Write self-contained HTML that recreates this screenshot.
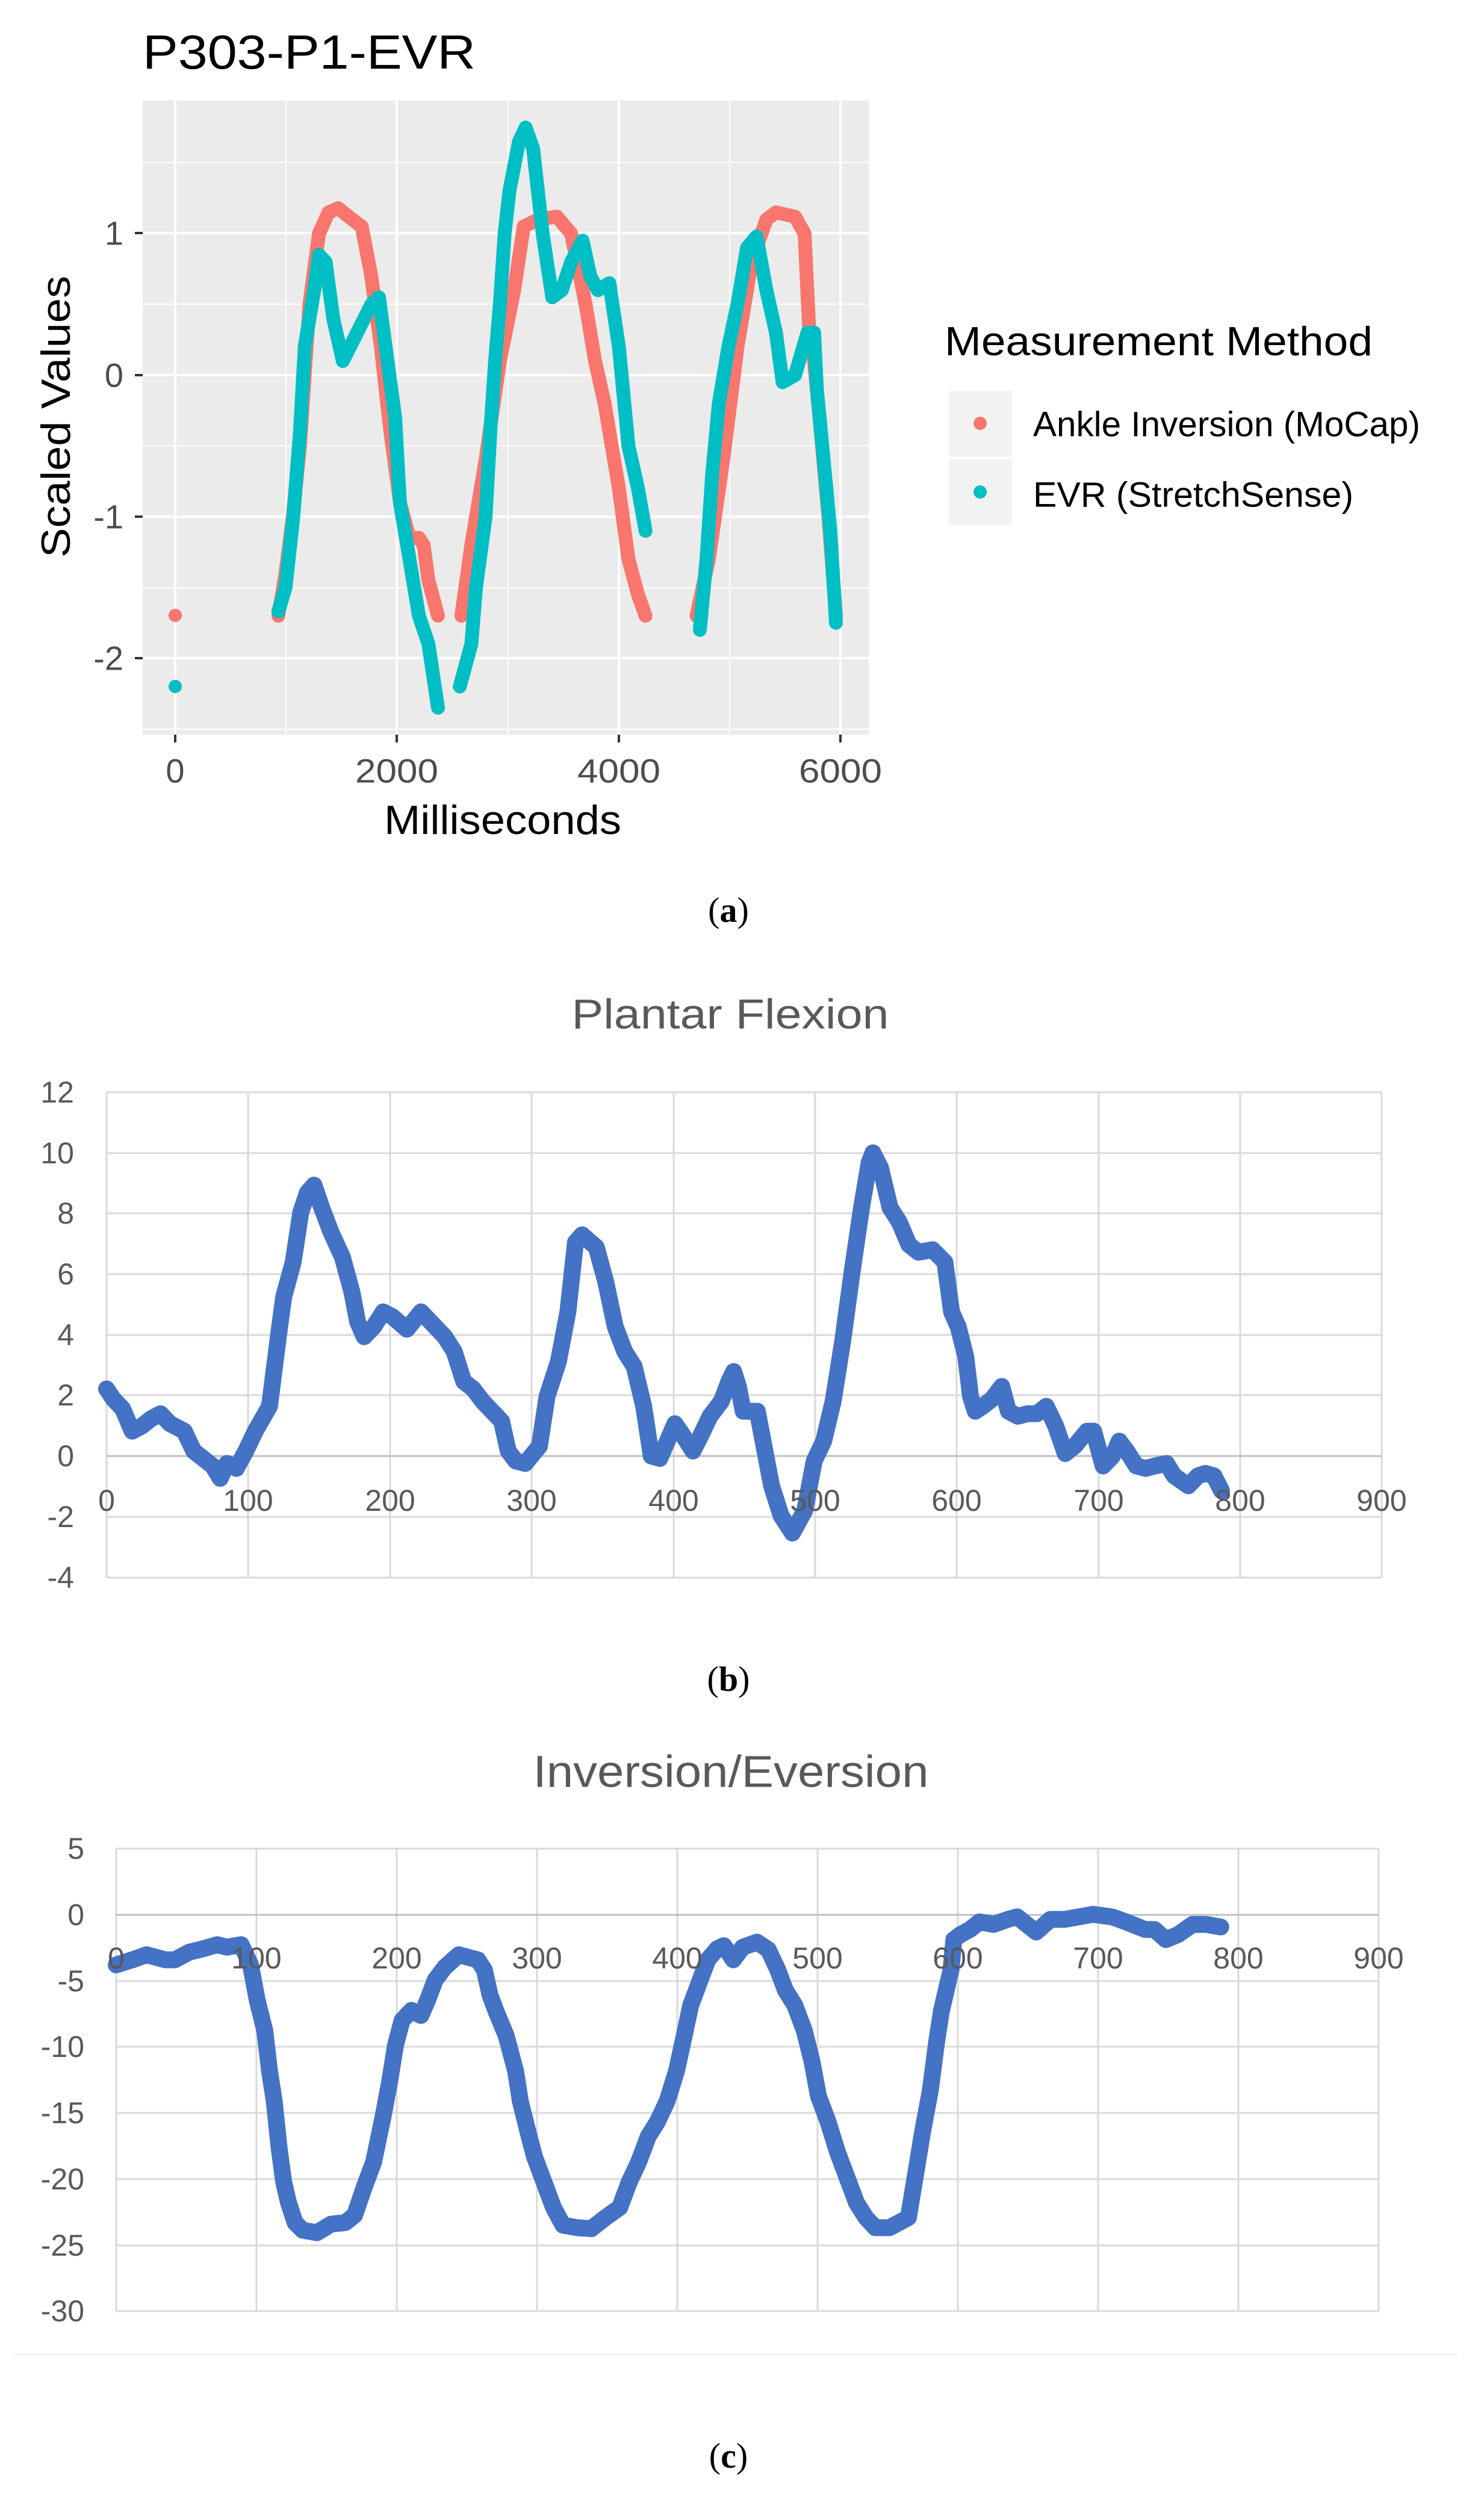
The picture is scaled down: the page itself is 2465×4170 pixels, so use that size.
<!DOCTYPE html>
<html><head><meta charset="utf-8"><style>html,body{margin:0;padding:0;background:#fff}svg{display:block}</style></head>
<body>
<svg width="2465" height="4170" viewBox="0 0 2465 4170" xmlns="http://www.w3.org/2000/svg" font-family="Liberation Sans, sans-serif">
<rect width="2465" height="4170" fill="#fff"/>
<!-- ===== Panel (a) ===== -->
<text x="237" y="114" font-size="80" fill="#000" textLength="553" lengthAdjust="spacingAndGlyphs">P303-P1-EVR</text>
<rect x="237" y="167" width="1206" height="1053" fill="#EBEBEB"/>
<g stroke="#fff" stroke-width="2">
<line x1="237" x2="1443" y1="270" y2="270"/><line x1="237" x2="1443" y1="505" y2="505"/><line x1="237" x2="1443" y1="740" y2="740"/><line x1="237" x2="1443" y1="976" y2="976"/><line x1="237" x2="1443" y1="1211" y2="1211"/>
<line x1="475" x2="475" y1="167" y2="1220"/><line x1="844" x2="844" y1="167" y2="1220"/><line x1="1212" x2="1212" y1="167" y2="1220"/>
</g>
<g stroke="#fff" stroke-width="4">
<line x1="237" x2="1443" y1="387" y2="387"/><line x1="237" x2="1443" y1="623" y2="623"/><line x1="237" x2="1443" y1="858" y2="858"/><line x1="237" x2="1443" y1="1093" y2="1093"/>
<line x1="291" x2="291" y1="167" y2="1220"/><line x1="659" x2="659" y1="167" y2="1220"/><line x1="1028" x2="1028" y1="167" y2="1220"/><line x1="1396" x2="1396" y1="167" y2="1220"/>
</g>
<g stroke="#333" stroke-width="4">
<line x1="224" x2="237" y1="387" y2="387"/><line x1="224" x2="237" y1="623" y2="623"/><line x1="224" x2="237" y1="858" y2="858"/><line x1="224" x2="237" y1="1093" y2="1093"/>
<line x1="291" x2="291" y1="1220" y2="1233"/><line x1="659" x2="659" y1="1220" y2="1233"/><line x1="1028" x2="1028" y1="1220" y2="1233"/><line x1="1396" x2="1396" y1="1220" y2="1233"/>
</g>
<g font-size="56" fill="#4d4d4d" text-anchor="end" dominant-baseline="central">
<text x="205" y="387">1</text><text x="205" y="623">0</text><text x="205" y="858">-1</text><text x="205" y="1093">-2</text>
</g>
<g font-size="56" fill="#4d4d4d" text-anchor="middle" dominant-baseline="central">
<text x="291" y="1280">0</text><text x="659" y="1280" textLength="138" lengthAdjust="spacingAndGlyphs">2000</text><text x="1028" y="1280" textLength="138" lengthAdjust="spacingAndGlyphs">4000</text><text x="1396" y="1280" textLength="138" lengthAdjust="spacingAndGlyphs">6000</text>
</g>
<text x="835" y="1362" font-size="68" text-anchor="middle" dominant-baseline="central" textLength="394" lengthAdjust="spacingAndGlyphs">Milliseconds</text>
<text transform="translate(93,692) rotate(-90)" font-size="68" text-anchor="middle" dominant-baseline="central" textLength="468" lengthAdjust="spacingAndGlyphs">Scaled Values</text>
<g fill="none" stroke-width="23" stroke-linecap="round" stroke-linejoin="round">
<g transform="matrix(0.18425 0 0 -235 291 623)" stroke="#F8766D">
<polyline vector-effect="non-scaling-stroke" points="930,-1.7 995,-1.4 1060,-1.0 1125,-0.5 1210,0.5 1296,1.0 1382,1.15 1468,1.18 1597,1.1 1682,1.05 1768,0.7 1854,0.2 1940,-0.4 2026,-0.9 2112,-1.15 2197,-1.15 2240,-1.2 2283,-1.45 2369,-1.7"/>
<polyline vector-effect="non-scaling-stroke" points="2580,-1.7 2670,-1.2 2798,-0.6 2927,0.1 3056,0.6 3142,1.05 3270,1.1 3442,1.12 3570,1.0 3700,0.5 3785,0.1 3871,-0.2 4000,-0.8 4086,-1.3 4172,-1.55 4240,-1.7"/>
<polyline vector-effect="non-scaling-stroke" points="4700,-1.7 4811,-1.3 4940,-0.6 5069,0.2 5197,0.8 5330,1.1 5416,1.15 5588,1.12 5674,1.0 5717,0.3 5760,0.1 5820,-0.4 5889,-1.0 5957,-1.7"/>
</g>
<g transform="matrix(0.18425 0 0 -235 291 623)" stroke="#00BFC4">
<polyline vector-effect="non-scaling-stroke" points="930,-1.67 995,-1.5 1065,-1.0 1125,-0.4 1168,0.2 1253,0.6 1296,0.85 1356,0.8 1425,0.4 1511,0.1 1640,0.3 1768,0.5 1837,0.55 1897,0.2 1983,-0.3 2026,-0.9 2112,-1.3 2197,-1.7 2283,-1.9 2369,-2.35"/>
<polyline vector-effect="non-scaling-stroke" points="2566,-2.2 2670,-1.9 2712,-1.5 2798,-1.0 2841,-0.4 2884,0.1 2927,0.5 2970,1.0 3013,1.3 3099,1.65 3159,1.75 3227,1.6 3313,1.0 3399,0.55 3485,0.6 3570,0.8 3673,0.95 3742,0.7 3811,0.6 3914,0.65 4000,0.2 4086,-0.5 4172,-0.8 4240,-1.1"/>
<polyline vector-effect="non-scaling-stroke" points="4730,-1.8 4790,-1.3 4841,-0.7 4901,-0.2 4987,0.2 5069,0.5 5155,0.9 5241,0.98 5330,0.6 5416,0.3 5476,-0.05 5588,0.0 5700,0.3 5760,0.3 5785,-0.1 5846,-0.6 5906,-1.1 5957,-1.75"/>
</g>
</g>
<circle cx="291" cy="1022" r="11" fill="#F8766D"/>
<circle cx="291" cy="1140" r="11" fill="#00BFC4"/>
<!-- legend -->
<text x="1569" y="567" font-size="68" dominant-baseline="central" textLength="711" lengthAdjust="spacingAndGlyphs">Measurement Method</text>
<rect x="1576" y="649" width="105" height="109" fill="#F2F2F2"/>
<rect x="1576" y="762" width="105" height="110" fill="#F2F2F2"/>
<circle cx="1628" cy="703" r="11" fill="#F8766D"/>
<circle cx="1628" cy="817" r="11" fill="#00BFC4"/>
<text x="1716" y="705" font-size="58" dominant-baseline="central" textLength="643" lengthAdjust="spacingAndGlyphs">Ankle Inversion (MoCap)</text>
<text x="1716" y="822" font-size="58" dominant-baseline="central" textLength="532" lengthAdjust="spacingAndGlyphs">EVR (StretchSense)</text>
<text x="1210" y="1511" font-size="58" font-family="Liberation Serif, serif" text-anchor="middle" dominant-baseline="central">(<tspan font-weight="bold">a</tspan>)</text>

<!-- ===== Panel (b) ===== -->
<text x="1213" y="1684" font-size="70" fill="#595959" text-anchor="middle" dominant-baseline="central" textLength="527" lengthAdjust="spacingAndGlyphs">Plantar Flexion</text>
<g stroke="#D9D9D9" stroke-width="3">
<line x1="177" x2="2295" y1="1814" y2="1814"/><line x1="177" x2="2295" y1="1915" y2="1915"/><line x1="177" x2="2295" y1="2015" y2="2015"/><line x1="177" x2="2295" y1="2116" y2="2116"/><line x1="177" x2="2295" y1="2217" y2="2217"/><line x1="177" x2="2295" y1="2317" y2="2317"/><line x1="177" x2="2295" y1="2519" y2="2519"/><line x1="177" x2="2295" y1="2620" y2="2620"/>
<line x1="177" x2="177" y1="1814" y2="2620"/><line x1="412" x2="412" y1="1814" y2="2620"/><line x1="648" x2="648" y1="1814" y2="2620"/><line x1="883" x2="883" y1="1814" y2="2620"/><line x1="1119" x2="1119" y1="1814" y2="2620"/><line x1="1354" x2="1354" y1="1814" y2="2620"/><line x1="1589" x2="1589" y1="1814" y2="2620"/><line x1="1825" x2="1825" y1="1814" y2="2620"/><line x1="2060" x2="2060" y1="1814" y2="2620"/><line x1="2295" x2="2295" y1="1814" y2="2620"/>
</g>
<line x1="177" x2="2295" y1="2418" y2="2418" stroke="#BFBFBF" stroke-width="3"/>
<g font-size="50" fill="#595959" text-anchor="end" dominant-baseline="central">
<text x="123" y="1814">12</text><text x="123" y="1915">10</text><text x="123" y="2015">8</text><text x="123" y="2116">6</text><text x="123" y="2217">4</text><text x="123" y="2317">2</text><text x="123" y="2418">0</text><text x="123" y="2519">-2</text><text x="123" y="2620">-4</text>
</g>
<polyline transform="matrix(1.5735 0 0 0.8254 -0.8 1551.3)" vector-effect="non-scaling-stroke" fill="none" stroke="#4472C4" stroke-width="28" stroke-linecap="round" stroke-linejoin="round" points="113,915 120,935 130,955 140,1000 150,990 160,975 170,965 180,985 195,1000 205,1040 215,1055 225,1070 233,1095 240,1065 250,1075 260,1040 270,1000 285,950 295,800 300,730 310,660 318,560 325,520 332,505 340,550 350,600 362,650 372,720 378,780 385,810 395,790 405,760 415,770 430,795 445,760 460,790 470,810 480,840 490,900 500,915 510,940 520,960 530,980 537,1040 545,1060 555,1065 570,1030 578,930 590,860 600,760 608,620 615,605 630,630 640,700 650,790 660,840 670,870 680,950 688,1050 697,1055 705,1020 713,985 722,1010 732,1040 740,1010 750,970 762,940 770,900 775,880 780,910 785,960 800,960 808,1040 815,1110 825,1170 837,1205 850,1160 860,1060 870,1020 880,940 890,820 900,680 910,550 918,460 922,440 930,470 940,550 950,580 960,625 970,640 985,635 998,660 1005,760 1012,790 1020,850 1025,930 1030,960 1038,950 1048,935 1058,910 1065,960 1075,970 1085,965 1095,965 1105,950 1115,990 1125,1045 1135,1030 1148,1000 1155,1000 1165,1070 1175,1050 1182,1020 1190,1040 1200,1070 1210,1075 1220,1070 1232,1065 1240,1090 1255,1110 1265,1090 1273,1085 1282,1090 1290,1120"/>
<g font-size="50" fill="#595959" text-anchor="middle" dominant-baseline="central">
<text x="177" y="2492">0</text><text x="412" y="2492">100</text><text x="648" y="2492">200</text><text x="883" y="2492">300</text><text x="1119" y="2492">400</text><text x="1354" y="2492">500</text><text x="1589" y="2492">600</text><text x="1825" y="2492">700</text><text x="2060" y="2492">800</text><text x="2295" y="2492">900</text>
</g>
<text x="1210" y="2788" font-size="58" font-family="Liberation Serif, serif" text-anchor="middle" dominant-baseline="central">(<tspan font-weight="bold">b</tspan>)</text>

<!-- ===== Panel (c) ===== -->
<text x="1214" y="2942" font-size="74" fill="#595959" text-anchor="middle" dominant-baseline="central" textLength="657" lengthAdjust="spacingAndGlyphs">Inversion/Eversion</text>
<g stroke="#D9D9D9" stroke-width="3">
<line x1="193" x2="2290" y1="3070" y2="3070"/><line x1="193" x2="2290" y1="3290" y2="3290"/><line x1="193" x2="2290" y1="3399" y2="3399"/><line x1="193" x2="2290" y1="3509" y2="3509"/><line x1="193" x2="2290" y1="3619" y2="3619"/><line x1="193" x2="2290" y1="3729" y2="3729"/><line x1="193" x2="2290" y1="3838" y2="3838"/>
<line x1="193" x2="193" y1="3070" y2="3838"/><line x1="426" x2="426" y1="3070" y2="3838"/><line x1="659" x2="659" y1="3070" y2="3838"/><line x1="892" x2="892" y1="3070" y2="3838"/><line x1="1125" x2="1125" y1="3070" y2="3838"/><line x1="1358" x2="1358" y1="3070" y2="3838"/><line x1="1591" x2="1591" y1="3070" y2="3838"/><line x1="1824" x2="1824" y1="3070" y2="3838"/><line x1="2057" x2="2057" y1="3070" y2="3838"/><line x1="2290" x2="2290" y1="3070" y2="3838"/>
</g>
<line x1="193" x2="2290" y1="3180" y2="3180" stroke="#BFBFBF" stroke-width="3"/>
<line x1="24" x2="2420" y1="3910" y2="3910" stroke="#EDEDED" stroke-width="2"/>
<g font-size="50" fill="#595959" text-anchor="end" dominant-baseline="central">
<text x="140" y="3070">5</text><text x="140" y="3180">0</text><text x="140" y="3290">-5</text><text x="140" y="3399">-10</text><text x="140" y="3509">-15</text><text x="140" y="3619">-20</text><text x="140" y="3729">-25</text><text x="140" y="3838">-30</text>
</g>
<polyline transform="matrix(1.5722 0 0 0.8393 -0.4 2851.8)" vector-effect="non-scaling-stroke" fill="none" stroke="#4472C4" stroke-width="28" stroke-linecap="round" stroke-linejoin="round" points="123,490 140,480 155,470 175,480 185,480 200,465 215,458 230,450 240,455 255,450 265,490 272,560 280,620 285,700 290,760 295,850 300,920 305,960 312,1000 320,1015 335,1020 350,1003 365,1000 375,985 385,930 395,880 405,790 412,720 418,650 425,600 435,580 445,590 452,560 460,520 470,495 485,470 495,475 505,480 512,500 518,550 525,585 535,630 545,700 550,760 558,820 565,870 575,920 585,970 595,1005 610,1010 625,1012 640,990 655,970 665,920 675,880 685,830 695,800 705,760 715,700 722,640 730,570 738,530 748,480 758,458 765,452 775,480 785,455 800,445 812,460 822,500 830,540 840,570 850,620 858,680 865,750 875,800 885,860 895,910 905,960 915,990 925,1010 940,1010 950,1000 960,990 968,900 975,820 983,740 990,640 995,580 1000,540 1005,500 1008,440 1015,430 1025,420 1035,405 1050,410 1065,400 1075,395 1085,410 1095,425 1110,400 1125,400 1140,395 1155,390 1175,395 1190,405 1210,420 1220,420 1232,440 1245,430 1260,410 1275,410 1290,415"/>
<g font-size="50" fill="#595959" text-anchor="middle" dominant-baseline="central">
<text x="193" y="3252">0</text><text x="426" y="3252">100</text><text x="659" y="3252">200</text><text x="892" y="3252">300</text><text x="1125" y="3252">400</text><text x="1358" y="3252">500</text><text x="1591" y="3252">600</text><text x="1824" y="3252">700</text><text x="2057" y="3252">800</text><text x="2290" y="3252">900</text>
</g>
<text x="1210" y="4078" font-size="58" font-family="Liberation Serif, serif" text-anchor="middle" dominant-baseline="central">(<tspan font-weight="bold">c</tspan>)</text>
</svg>
</body></html>
